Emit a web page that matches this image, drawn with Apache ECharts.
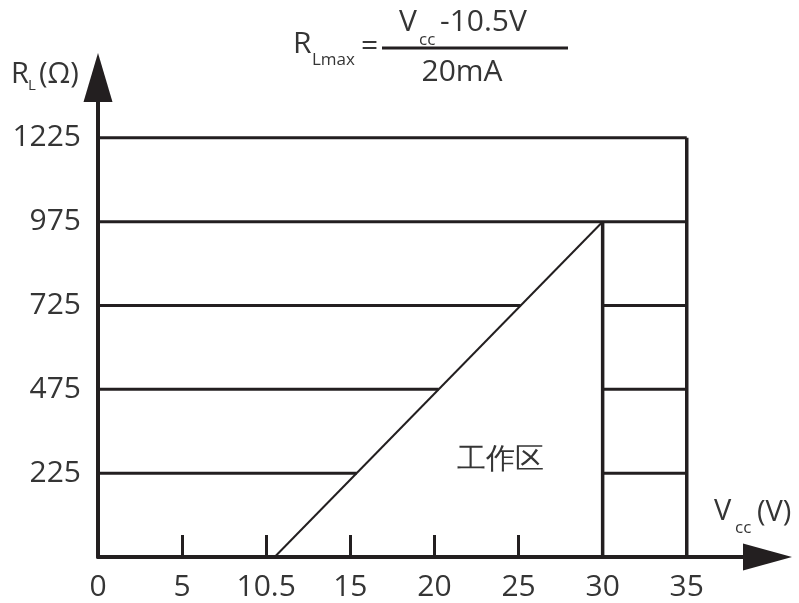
<!DOCTYPE html>
<html><head><meta charset="utf-8">
<script src="https://cdn.jsdelivr.net/npm/echarts@6/dist/echarts.min.js"></script>
<style>html,body{margin:0;padding:0;background:#fff}#c{width:799px;height:603px}</style>
</head><body><div id="c"></div>
<script>
// ---- data ----
const xTicks = [0, 5, 10.5, 15, 20, 25, 30, 35];      // Vcc (V) tick labels, evenly spaced on the axis
const yTicks = [0, 225, 475, 725, 975, 1225];         // RL (Ω) tick labels, evenly spaced on the axis
const xMinorTicks = [5, 10.5, 15, 20, 25];            // short tick marks on the Vcc axis
const diagVcc = [10.95, 30];                          // RLmax line, Vcc
const diagR = [0, 975];                               // RLmax line, RL
const partialLevels = [225, 475, 725];                // rows cut by the RLmax line
const fullLevels = [975, 1225];                       // rows drawn 0..35 V
const rightBlock = [30, 35];                          // right-hand column, Vcc
const vertVcc = [30, 35];                             // vertical lines, Vcc
const vertTop = [975, 1225];                          // vertical lines, top RL

// ---- mapping of values onto the evenly spaced tick scale ----
function toIdx(v, t) {
  for (let i = 0; i < t.length - 1; i++) {
    if (v <= t[i + 1]) return i + (v - t[i]) / (t[i + 1] - t[i]);
  }
  return t.length - 1;
}
const X = v => toIdx(v, xTicks);
const Y = v => toIdx(v, yTicks);

const LC = '#231f20';
const TC = '#353535';
const FF = '"Open Sans", "Noto Sans", sans-serif';

const d0 = [X(diagVcc[0]), Y(diagR[0])], d1 = [X(diagVcc[1]), Y(diagR[1])];
function diagXAt(yi) { return d0[0] + (yi - d0[1]) / (d1[1] - d0[1]) * (d1[0] - d0[0]); }

const segs = [];
partialLevels.forEach(r => {
  const yi = Y(r);
  segs.push({ d: [[0, yi], [diagXAt(yi), yi]], w: 3 });
  segs.push({ d: [[X(rightBlock[0]), yi], [X(rightBlock[1]), yi]], w: 3 });
});
fullLevels.forEach(r => {
  const yi = Y(r);
  segs.push({ d: [[0, yi], [X(xTicks[xTicks.length - 1]), yi]], w: 3 });
});
vertVcc.forEach((v, i) => {
  segs.push({ d: [[X(v), 0], [X(v), Y(vertTop[i])]], w: 3.5 });
});
segs.push({ d: [d0, d1], w: 2 });

const series = segs.map(s => ({
  type: 'line', data: s.d, symbol: 'none', silent: true, animation: false,
  lineStyle: { color: LC, width: s.w }, z: 3
}));

function txt(x, y, text, size, align) {
  return { type: 'text', x: x, y: y, silent: true,
    style: { text: text, fontSize: size, fontFamily: FF, fill: TC,
      align: align || 'left', verticalAlign: 'middle', textAlign: align || 'left', textVerticalAlign: 'middle' } };
}

const chart = echarts.init(document.getElementById('c'), null, { renderer: 'canvas' });
chart.setOption({
  animation: false,
  grid: { left: 98, right: 31.5, top: 77.5, bottom: 46, containLabel: false },
  xAxis: {
    type: 'value', min: 0, max: 7.96,
    splitLine: { show: false },
    axisLine: { show: true, lineStyle: { color: LC, width: 4 }, symbol: ['none', 'triangle'], symbolSize: [27, 49] },
    axisTick: { show: true, inside: true, length: 22, lineStyle: { color: LC, width: 3 },
      customValues: xMinorTicks.map(X) },
    axisLabel: { customValues: xTicks.map((v, i) => i), formatter: v => String(xTicks[Math.round(v)]),
      color: TC, fontSize: 30, fontFamily: FF, margin: 15 }
  },
  yAxis: {
    type: 'value', min: 0, max: 5.72,
    splitLine: { show: false },
    axisLine: { show: true, lineStyle: { color: LC, width: 4 }, symbol: ['none', 'triangle'], symbolSize: [29, 49] },
    axisTick: { show: false },
    axisLabel: { customValues: yTicks.slice(1).map((v, i) => i + 1), formatter: v => String(yTicks[Math.round(v)]),
      color: TC, fontSize: 30, fontFamily: FF, margin: 17 }
  },
  series: series,
  graphic: [
    // formula
    txt(293, 44, 'R', 30),
    txt(312, 60, 'Lmax', 17),
    txt(361, 46, '=', 30),
    { type: 'line', silent: true, shape: { x1: 382, y1: 48, x2: 568, y2: 48 }, style: { stroke: LC, lineWidth: 3 } },
    txt(399, 22, 'V', 30),
    txt(419, 40, 'cc', 17),
    txt(440, 22, '-10.5V', 30),
    txt(462, 72, '20mA', 30, 'center'),
    // y axis name
    txt(11, 75, 'R', 29),
    txt(28, 86, 'L', 15),
    txt(39, 75, '(Ω)', 29),
    // x axis name
    txt(714, 512, 'V', 29),
    txt(735, 528, 'cc', 17),
    txt(757, 513, '(V)', 29),
    // working area
    txt(500, 460, '工作区', 29, 'center')
  ]
});
</script></body></html>
